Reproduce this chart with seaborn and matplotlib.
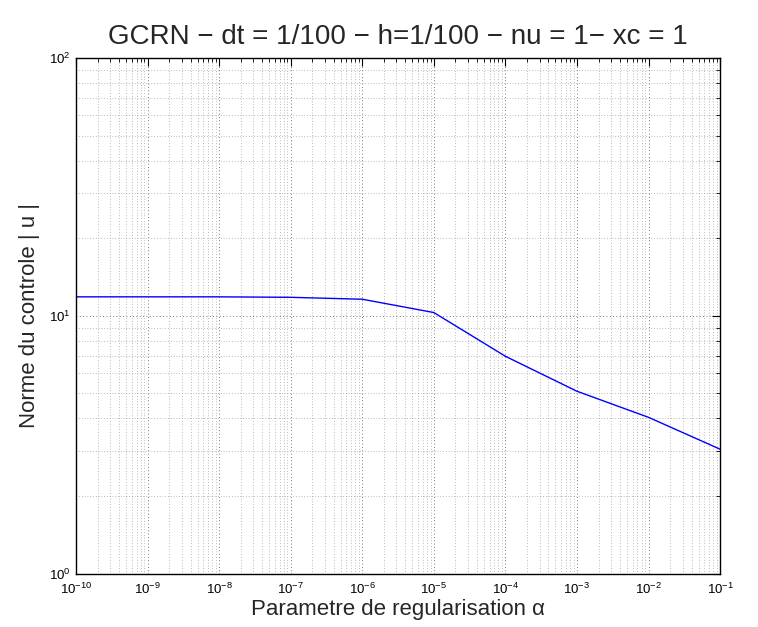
import numpy as np
import pandas as pd
import matplotlib
matplotlib.use("Agg")
import matplotlib.pyplot as plt
import matplotlib.ticker as mticker
import seaborn as sns

# regularisation parameter and control norm
alpha = [1e-10, 1e-9, 1e-8, 1e-7, 1e-6, 1e-5, 1e-4, 1e-3, 1e-2, 1e-1]
norm_u = [11.85, 11.85, 11.85, 11.8, 11.6, 10.3, 6.97, 5.1, 4.04, 3.04]

df = pd.DataFrame({'alpha': alpha, 'norm_u': norm_u})

sns.set_style('white')
plt.rcParams['font.family'] = ['Liberation Sans', 'DejaVu Sans']
plt.rcParams['mathtext.fontset'] = 'custom'
plt.rcParams['mathtext.rm'] = 'Liberation Sans'

fig = plt.figure(figsize=(7.58, 6.27), dpi=100)
ax = fig.add_axes([0.1003, 0.085, 0.8497, 0.8225])
sns.lineplot(x='alpha', y='norm_u', data=df, color='#0000ff', linewidth=1, ax=ax)
ax.set_xscale('log')
ax.set_yscale('log')
ax.set_xlim(1e-10, 1e-1)
ax.set_ylim(1, 100)
ax.xaxis.set_major_locator(mticker.LogLocator(base=10, numticks=20))
ax.xaxis.set_minor_locator(mticker.LogLocator(base=10, subs=np.arange(2, 10), numticks=200))
ax.xaxis.set_minor_formatter(mticker.NullFormatter())
ax.yaxis.set_minor_locator(mticker.LogLocator(base=10, subs=np.arange(2, 10), numticks=200))
ax.yaxis.set_minor_formatter(mticker.NullFormatter())

ax.grid(True, which='major', linestyle=(0, (1, 3)), color='0.3', linewidth=0.6)
ax.grid(True, which='minor', linestyle=(0, (1, 3)), color='0.5', linewidth=0.5)
ax.tick_params(which='both', direction='in', top=True, right=True, labelsize=9.5, colors='black')
ax.tick_params(axis='y', pad=4)
ax.tick_params(axis='x', pad=6)
ax.tick_params(which='major', length=6)
ax.tick_params(which='minor', length=3)
for s in ax.spines.values():
    s.set_color('black')
    s.set_linewidth(1)

ax.set_xlabel('Parametre de regularisation \u03b1', fontsize=16, labelpad=1)
ax.set_ylabel('Norme du controle | u |', fontsize=16, labelpad=6)
ax.set_title('GCRN \u2212 dt = 1/100 \u2212 h=1/100 \u2212 nu = 1\u2212 xc = 1', fontsize=20, pad=10)

plt.savefig('out.png', dpi=100)
